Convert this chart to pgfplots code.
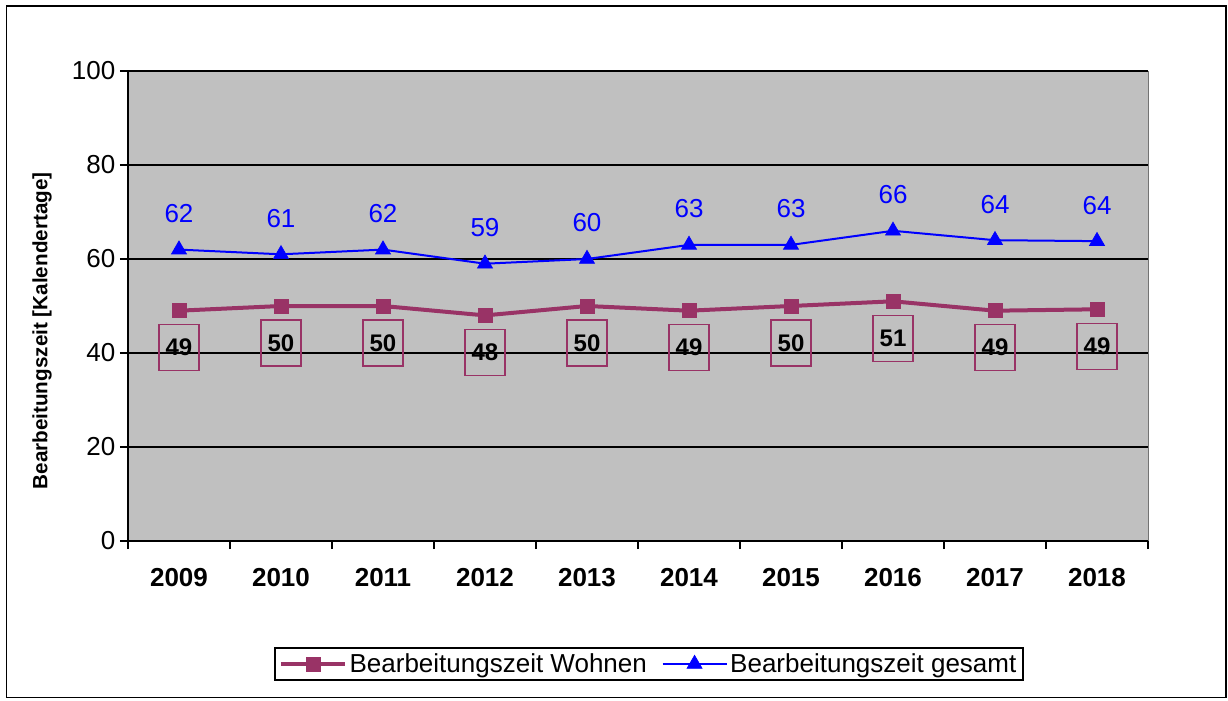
\documentclass[border=0pt]{standalone}
\usepackage{pgfplots}
\pgfplotsset{compat=1.18}
\usepackage{fontspec}
\setmainfont{Liberation Sans}
\definecolor{wohn}{HTML}{993366}
\definecolor{plotgray}{HTML}{C0C0C0}
\begin{document}
\begin{tikzpicture}
\useasboundingbox (-96pt,-119.25pt) rectangle (825pt,405.75pt);
\draw[line width=1.2pt] (-91pt,-117.5pt) rectangle (823.5pt,401.25pt);
\begin{axis}[
  /pgf/number format/assume math mode=true,
  at={(0pt,0pt)}, anchor=south west,
  scale only axis, width=765pt, height=352.5pt,
  xmin=-0.5, xmax=9.5, ymin=0, ymax=100,
  axis background/.style={fill=plotgray, draw=gray!90!black},
  axis x line*=bottom, axis y line*=left,
  x axis line style={-, line width=1.2pt},
  y axis line style={-, line width=1.2pt},
  ytick={0,20,...,100},
  ymajorgrids, grid style={black, line width=1pt},
  xtick={0,...,9},
  xticklabels={2009,2010,2011,2012,2013,2014,2015,2016,2017,2018},
  major x tick style={draw=none},
  minor xtick={-0.5,0.5,...,9.5},
  tick align=outside,
  major tick length=6pt, minor tick length=6pt,
  tick style={black, line width=1pt},
  xticklabel style={font=\bfseries\fontsize{19.5}{22}\selectfont, yshift=-11pt},
  yticklabel style={font=\fontsize{19.5}{22}\selectfont},
  ylabel={\bfseries Bearbeitungszeit [Kalendertage]},
  ylabel style={font=\fontsize{15.5}{18}\selectfont, at={(axis description cs:-0.0843,0.447)}, anchor=center},
  legend style={at={(axis description cs:0.5108,-0.2617)}, anchor=center, draw=black, line width=1.2pt,
    font=\fontsize{19.5}{22}\selectfont, legend columns=2,
    /tikz/every even column/.append style={column sep=9pt}},
  legend image code/.code={\draw[mark repeat=2,mark phase=2] plot coordinates {(0pt,0pt)(24pt,0pt)(48pt,0pt)};},
]
\addplot[wohn, line width=3pt, mark=square*, mark size=5.25pt, mark options={line width=0.5pt},
  nodes near coords={\pgfmathprintnumber[fixed,precision=0]{\pgfplotspointmeta}},
  nodes near coords style={draw=wohn, line width=1pt, text=black, font=\bfseries\fontsize{18}{21}\selectfont,
    minimum width=30pt, minimum height=34.5pt, inner sep=0pt, anchor=center, yshift=-27.75pt}]
  coordinates {(0,49) (1,50) (2,50) (3,48) (4,50) (5,49) (6,50) (7,51) (8,49) (9,49.3)};
\addlegendentry{Bearbeitungszeit Wohnen}
\addplot[blue, line width=1.5pt, mark=triangle*, mark size=6.5pt, mark options={line width=0.5pt},
  nodes near coords={\pgfmathprintnumber[fixed,precision=0]{\pgfplotspointmeta}},
  nodes near coords style={text=blue, font=\fontsize{19.5}{22}\selectfont, anchor=center, yshift=27pt}]
  coordinates {(0,62) (1,61) (2,62) (3,59) (4,60) (5,63) (6,63) (7,66) (8,64) (9,63.8)};
\addlegendentry{Bearbeitungszeit gesamt}
\end{axis}
\end{tikzpicture}
\end{document}
